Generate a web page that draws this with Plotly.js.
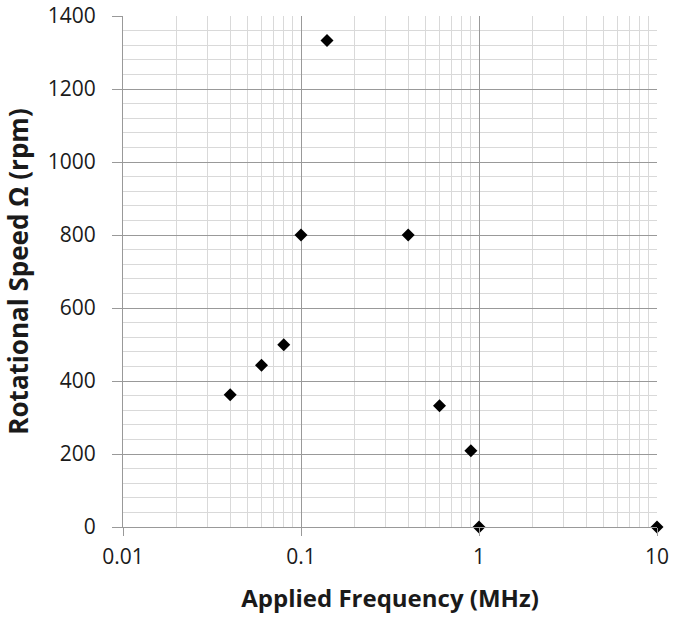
<!DOCTYPE html>
<html>
<head>
<meta charset="utf-8">
<script src="https://cdn.plot.ly/plotly-3.0.1.min.js"></script>
<style>
  html, body { margin: 0; padding: 0; background: #fff; }
  #plot { width: 678px; height: 623px; }
</style>
</head>
<body>
<div id="plot"></div>
<script>
// Applied frequency (MHz) and rotational speed (rpm)
const freqMHz = [0.04, 0.06, 0.08, 0.1, 0.14, 0.4, 0.6, 0.9, 1, 10];
const speedRpm = [362, 443, 499, 800, 1333, 800, 332, 209, 0, 0];

const xTickVals = [0.01, 0.1, 1, 10];
const xTickText = ['0.01', '0.1', '1', '10'];

const font = "'Open Sans', 'Noto Sans', sans-serif";

Plotly.newPlot('plot', [{
    type: 'scatter',
    mode: 'markers',
    x: freqMHz,
    y: speedRpm,
    marker: { symbol: 'diamond', color: '#000', size: 10 },
    cliponaxis: false,
    hoverinfo: 'x+y'
}], {
    width: 678,
    height: 623,
    margin: { l: 123, r: 21, t: 16, b: 96 },
    paper_bgcolor: '#fff',
    plot_bgcolor: '#fff',
    showlegend: false,
    font: { family: font, color: '#1a1a1a', size: 20 },
    xaxis: {
        type: 'log',
        range: [-2, 1],
        tickvals: xTickVals,
        ticktext: xTickText,
        ticks: 'outside',
        ticklen: 8,
        tickcolor: '#999',
        ticklabelstandoff: 3,
        showline: true,
        linecolor: '#999',
        gridcolor: '#999',
        zeroline: false,
        minor: { showgrid: true, gridcolor: '#d9d9d9', dtick: 'D1', ticks: '' },
        tickfont: { size: 21, family: font },
        title: { text: '<b>Applied Frequency (MHz)</b>', font: { size: 24, family: font }, standoff: 20 }
    },
    yaxis: {
        range: [0, 1400],
        dtick: 200,
        ticks: 'outside',
        ticklen: 10,
        tickcolor: '#999',
        ticklabelstandoff: 12,
        showline: true,
        linecolor: '#999',
        gridcolor: '#999',
        zeroline: false,
        minor: { showgrid: true, gridcolor: '#d9d9d9', dtick: 40, ticks: '' },
        tickfont: { size: 21, family: font },
        title: { text: '<b>Rotational Speed Ω (rpm)</b>', font: { size: 26, family: font }, standoff: 14 }
    }
}, { displayModeBar: false, staticPlot: true });
</script>
</body>
</html>
